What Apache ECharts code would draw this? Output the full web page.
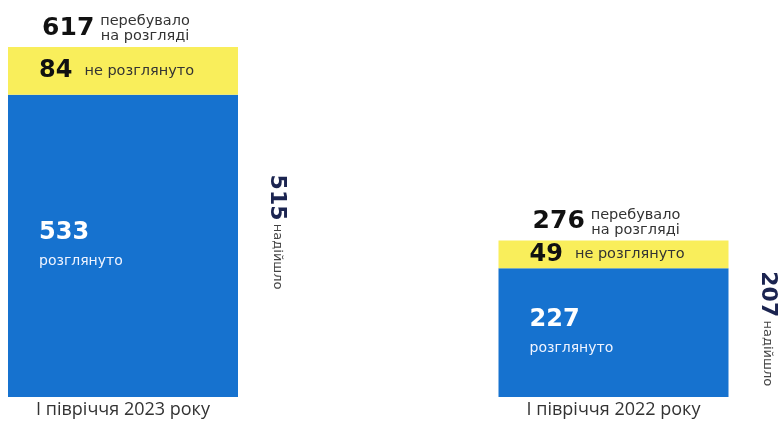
<!DOCTYPE html>
<html>
<head>
<meta charset="utf-8">
<script src="https://cdn.jsdelivr.net/npm/echarts@6/dist/echarts.min.js"></script>
<style>
html,body{margin:0;padding:0;background:#fff;}
#chart{width:782px;height:423px;}
</style>
</head>
<body>
<div id="chart"></div>
<script>
const categories = ['I півріччя 2023 року', 'I півріччя 2022 року'];
const reviewed = [533, 227];
const notReviewed = [84, 49];
const totals = [617, 276];
const received = [515, 207];

const BLUE = '#1672cf';
const YELLOW = '#f9ee5b';
const NUMF = 'DejaVu Sans';
const TXTF = 'DejaVu Sans';

const chart = echarts.init(document.getElementById('chart'));
chart.setOption({
  animation: false,
  backgroundColor: '#ffffff',
  grid: { left: 123, right: 168.5, top: 0, bottom: 26 },
  xAxis: {
    type: 'category',
    data: categories,
    boundaryGap: false,
    axisLine: { show: false },
    axisTick: { show: false },
    splitLine: { show: false },
    axisLabel: { margin: 4, fontSize: 18, color: '#333', fontFamily: 'Open Sans', interval: 0 }
  },
  yAxis: { type: 'value', min: 0, max: 700, show: false },
  series: [
    {
      name: 'розглянуто', type: 'bar', stack: 'all', barWidth: 230, barGap: '-100%', clip: false,
      data: reviewed,
      itemStyle: { color: BLUE },
      label: {
        show: true, position: 'insideLeft', distance: 31,
        formatter: p => '{n|' + reviewed[p.dataIndex] + '}\n{t|розглянуто}',
        rich: {
          n: { fontFamily: NUMF, fontWeight: 'bold', fontSize: 24, color: '#fff', lineHeight: 32 },
          t: { fontFamily: TXTF, fontSize: 14, color: '#f0f4ff', lineHeight: 26 }
        }
      }
    },
    {
      name: 'не розглянуто', type: 'bar', stack: 'all', barWidth: 230, barGap: '-100%', clip: false,
      data: notReviewed,
      itemStyle: { color: YELLOW },
      label: {
        show: true, position: 'insideLeft', distance: 31,
        formatter: p => '{n|' + notReviewed[p.dataIndex] + '}{t|не розглянуто}',
        rich: {
          n: { fontFamily: NUMF, fontWeight: 'bold', fontSize: 24, color: '#111', padding: [0, 12, 0, 0] },
          t: { fontFamily: TXTF, fontSize: 14.5, color: '#333' }
        }
      }
    },
    {
      name: 'перебувало на розгляді', type: 'bar', barWidth: 230, barGap: '-100%', clip: false,
      data: totals, z: 1,
      itemStyle: { color: 'rgba(0,0,0,0)' },
      label: {
        show: true, position: 'top', distance: 3, offset: [-10, 0],
        formatter: p => '{n|' + totals[p.dataIndex] + '}{t|перебувало}\n{sp| }{t|на розгляді}',
        rich: {
          n: { fontFamily: NUMF, fontWeight: 'bold', fontSize: 25, color: '#111', width: 64, lineHeight: 15, verticalAlign: 'top', padding: [2, 0, 0, 0] },
          sp: { width: 64, lineHeight: 15 },
          t: { fontFamily: TXTF, fontSize: 14.5, color: '#333', lineHeight: 15 }
        }
      }
    },
    {
      name: 'надійшло', type: 'bar', barWidth: 230, barGap: '-100%', clip: false,
      data: totals, z: 1,
      itemStyle: { color: 'rgba(0,0,0,0)' },
      label: {
        show: true, position: 'right', distance: 28, rotate: -90,
        align: 'center', verticalAlign: 'bottom', offset: [10, 0],
        formatter: p => '{n|' + received[p.dataIndex] + '} {t|надійшло}',
        rich: {
          n: { fontFamily: NUMF, fontWeight: 'bold', fontSize: 22, color: '#1b2450' },
          t: { fontFamily: TXTF, fontSize: 13, color: '#444' }
        }
      }
    }
  ]
});
</script>
</body>
</html>
